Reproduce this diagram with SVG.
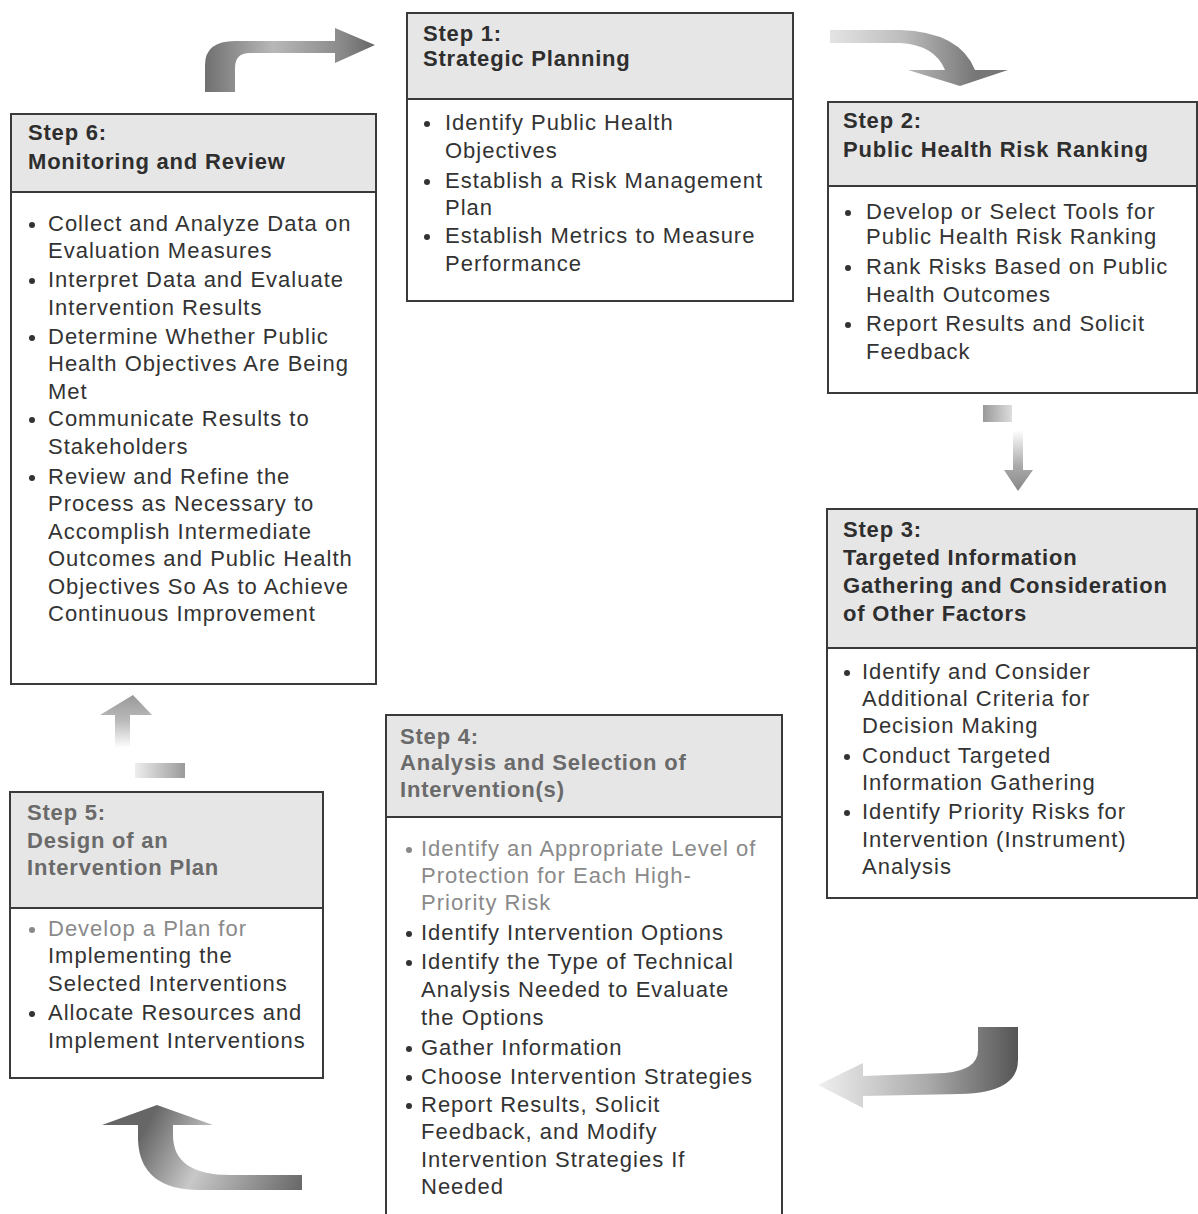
<svg xmlns="http://www.w3.org/2000/svg" width="1198" height="1214" viewBox="0 0 1198 1214">
<style>
.box{fill:#fff;stroke:#3a3a3a;stroke-width:2}
.hdr{fill:#e6e6e6;stroke:#3a3a3a;stroke-width:2}
.h{font-family:"Liberation Sans",Arial,sans-serif;font-size:22px;font-weight:bold;letter-spacing:0.8px;fill:#2e2e2e}
.t{font-family:"Liberation Sans",Arial,sans-serif;font-size:22px;letter-spacing:1px;fill:#333}
.lt{fill:#8a8a8a}
.mh{fill:#6a6a6a}
.dot{fill:#333}
.ldot{fill:#888}
</style>
<defs>
<linearGradient id="g1" gradientUnits="userSpaceOnUse" x1="205" y1="0" x2="375" y2="0">
<stop offset="0" stop-color="#707070"/><stop offset="0.4" stop-color="#b8b8b8"/><stop offset="0.8" stop-color="#8a8a8a"/><stop offset="1" stop-color="#666"/>
</linearGradient>
<linearGradient id="g2" gradientUnits="userSpaceOnUse" x1="830" y1="0" x2="975" y2="0">
<stop offset="0" stop-color="#e4e4e4"/><stop offset="0.5" stop-color="#bdbdbd"/><stop offset="1" stop-color="#777"/>
</linearGradient>
<linearGradient id="g3" gradientUnits="userSpaceOnUse" x1="0" y1="430" x2="0" y2="490">
<stop offset="0" stop-color="#fff"/><stop offset="0.6" stop-color="#aaa"/><stop offset="1" stop-color="#888"/>
</linearGradient>
<linearGradient id="g3r" gradientUnits="userSpaceOnUse" x1="983" y1="0" x2="1012" y2="0">
<stop offset="0" stop-color="#999"/><stop offset="1" stop-color="#ddd"/>
</linearGradient>
<linearGradient id="g4" gradientUnits="userSpaceOnUse" x1="0" y1="695" x2="0" y2="748">
<stop offset="0" stop-color="#999"/><stop offset="0.5" stop-color="#bbb"/><stop offset="1" stop-color="#fff"/>
</linearGradient>
<linearGradient id="g4r" gradientUnits="userSpaceOnUse" x1="135" y1="0" x2="185" y2="0">
<stop offset="0" stop-color="#eee"/><stop offset="1" stop-color="#9a9a9a"/>
</linearGradient>
<linearGradient id="g5" gradientUnits="userSpaceOnUse" x1="1018" y1="0" x2="818" y2="0">
<stop offset="0" stop-color="#555"/><stop offset="0.45" stop-color="#aaa"/><stop offset="1" stop-color="#f0f0f0"/>
</linearGradient>
<linearGradient id="g6" gradientUnits="userSpaceOnUse" x1="157" y1="1105" x2="302" y2="1182">
<stop offset="0" stop-color="#666"/><stop offset="0.4" stop-color="#c8c8c8"/><stop offset="1" stop-color="#6a6a6a"/>
</linearGradient>
</defs>

<g id="connectors">
<path d="M205,92 L205,65 Q205,41 235,41 L335,41 L335,28 L375,45 L335,63 L335,53 L250,53 Q235,53 235,68 L235,92 Z" fill="url(#g1)"/>
<path d="M830,30 L900,30 Q960,32 975,70 L1008,70 L960,86 L908,70 L945,70 Q935,45 900,43 L830,43 Z" fill="url(#g2)"/>
<rect x="983" y="405" width="29" height="17" fill="url(#g3r)"/>
<path d="M1013,430 L1023,430 L1023,470 L1033,470 L1018,491 L1004,470 L1013,470 Z" fill="url(#g3)"/>
<path d="M100,715 L133,695 L152,715 L130,715 L130,748 L115,748 L115,715 Z" fill="url(#g4)"/>
<rect x="135" y="763" width="50" height="15" fill="url(#g4r)"/>
<path d="M978,1027 L1018,1027 L1018,1060 Q1018,1093 960,1094 L863,1096 L863,1108 L818,1085 L863,1063 L863,1076 L945,1073 Q978,1070 978,1050 Z" fill="url(#g5)"/>
<path d="M302,1175 L230,1175 Q173,1175 173,1135 L173,1125 L213,1125 L157,1105 L102,1125 L138,1125 L138,1140 Q140,1190 200,1190 L302,1190 Z" fill="url(#g6)"/>
</g>

<g id="step1">
<rect class="box" x="407" y="13" width="386" height="288"/>
<rect class="hdr" x="407" y="13" width="386" height="86"/>
<text class="h" x="423" y="41">Step 1:</text>
<text class="h" x="423" y="66">Strategic Planning</text>
<circle class="dot" cx="427" cy="124" r="3"/>
<circle class="dot" cx="427" cy="182" r="3"/>
<circle class="dot" cx="427" cy="237" r="3"/>
<text class="t" x="445" y="130">Identify Public Health</text>
<text class="t" x="445" y="158">Objectives</text>
<text class="t" x="445" y="188">Establish a Risk Management</text>
<text class="t" x="445" y="215">Plan</text>
<text class="t" x="445" y="243">Establish Metrics to Measure</text>
<text class="t" x="445" y="271">Performance</text>
</g>

<g id="step2">
<rect class="box" x="828" y="102" width="369" height="291"/>
<rect class="hdr" x="828" y="102" width="369" height="84"/>
<text class="h" x="843" y="128">Step 2:</text>
<text class="h" x="843" y="157">Public Health Risk Ranking</text>
<circle class="dot" cx="848" cy="213" r="3"/>
<circle class="dot" cx="848" cy="268" r="3"/>
<circle class="dot" cx="848" cy="325" r="3"/>
<text class="t" x="866" y="219">Develop or Select Tools for</text>
<text class="t" x="866" y="244">Public Health Risk Ranking</text>
<text class="t" x="866" y="274">Rank Risks Based on Public</text>
<text class="t" x="866" y="302">Health Outcomes</text>
<text class="t" x="866" y="331">Report Results and Solicit</text>
<text class="t" x="866" y="359">Feedback</text>
</g>

<g id="step3">
<rect class="box" x="827" y="509" width="370" height="389"/>
<rect class="hdr" x="827" y="509" width="370" height="139"/>
<text class="h" x="843" y="537">Step 3:</text>
<text class="h" x="843" y="565">Targeted Information</text>
<text class="h" x="843" y="593">Gathering and Consideration</text>
<text class="h" x="843" y="621">of Other Factors</text>
<circle class="dot" cx="847" cy="673" r="3"/>
<circle class="dot" cx="847" cy="757" r="3"/>
<circle class="dot" cx="847" cy="813" r="3"/>
<text class="t" x="862" y="679">Identify and Consider</text>
<text class="t" x="862" y="706">Additional Criteria for</text>
<text class="t" x="862" y="733">Decision Making</text>
<text class="t" x="862" y="763">Conduct Targeted</text>
<text class="t" x="862" y="790">Information Gathering</text>
<text class="t" x="862" y="819">Identify Priority Risks for</text>
<text class="t" x="862" y="847">Intervention (Instrument)</text>
<text class="t" x="862" y="874">Analysis</text>
</g>

<g id="step4">
<rect class="box" x="386" y="715" width="396" height="510"/>
<rect class="hdr" x="386" y="715" width="396" height="102"/>
<text class="h mh" x="400" y="744">Step 4:</text>
<text class="h mh" x="400" y="770">Analysis and Selection of</text>
<text class="h mh" x="400" y="797">Intervention(s)</text>
<circle class="ldot" cx="409" cy="850" r="3"/>
<circle class="dot" cx="409" cy="934" r="3"/>
<circle class="dot" cx="409" cy="963" r="3"/>
<circle class="dot" cx="409" cy="1049" r="3"/>
<circle class="dot" cx="409" cy="1078" r="3"/>
<circle class="dot" cx="409" cy="1106" r="3"/>
<text class="t lt" x="421" y="856">Identify an Appropriate Level of</text>
<text class="t lt" x="421" y="883">Protection for Each High-</text>
<text class="t lt" x="421" y="910">Priority Risk</text>
<text class="t" x="421" y="940">Identify Intervention Options</text>
<text class="t" x="421" y="969">Identify the Type of Technical</text>
<text class="t" x="421" y="997">Analysis Needed to Evaluate</text>
<text class="t" x="421" y="1025">the Options</text>
<text class="t" x="421" y="1055">Gather Information</text>
<text class="t" x="421" y="1084">Choose Intervention Strategies</text>
<text class="t" x="421" y="1112">Report Results, Solicit</text>
<text class="t" x="421" y="1139">Feedback, and Modify</text>
<text class="t" x="421" y="1167">Intervention Strategies If</text>
<text class="t" x="421" y="1194">Needed</text>
</g>

<g id="step5">
<rect class="box" x="10" y="792" width="313" height="286"/>
<rect class="hdr" x="10" y="792" width="313" height="116"/>
<text class="h mh" x="27" y="820">Step 5:</text>
<text class="h mh" x="27" y="848">Design of an</text>
<text class="h mh" x="27" y="875">Intervention Plan</text>
<circle class="ldot" cx="32" cy="930" r="3"/>
<circle class="dot" cx="32" cy="1014" r="3"/>
<text class="t lt" x="48" y="936">Develop a Plan for</text>
<text class="t" x="48" y="963">Implementing the</text>
<text class="t" x="48" y="991">Selected Interventions</text>
<text class="t" x="48" y="1020">Allocate Resources and</text>
<text class="t" x="48" y="1048">Implement Interventions</text>
</g>

<g id="step6">
<rect class="box" x="11" y="114" width="365" height="570"/>
<rect class="hdr" x="11" y="114" width="365" height="78"/>
<text class="h" x="28" y="140">Step 6:</text>
<text class="h" x="28" y="169">Monitoring and Review</text>
<circle class="dot" cx="32" cy="225" r="3"/>
<circle class="dot" cx="32" cy="281" r="3"/>
<circle class="dot" cx="32" cy="338" r="3"/>
<circle class="dot" cx="32" cy="420" r="3"/>
<circle class="dot" cx="32" cy="478" r="3"/>
<text class="t" x="48" y="231">Collect and Analyze Data on</text>
<text class="t" x="48" y="258">Evaluation Measures</text>
<text class="t" x="48" y="287">Interpret Data and Evaluate</text>
<text class="t" x="48" y="315">Intervention Results</text>
<text class="t" x="48" y="344">Determine Whether Public</text>
<text class="t" x="48" y="371">Health Objectives Are Being</text>
<text class="t" x="48" y="399">Met</text>
<text class="t" x="48" y="426">Communicate Results to</text>
<text class="t" x="48" y="454">Stakeholders</text>
<text class="t" x="48" y="484">Review and Refine the</text>
<text class="t" x="48" y="511">Process as Necessary to</text>
<text class="t" x="48" y="539">Accomplish Intermediate</text>
<text class="t" x="48" y="566">Outcomes and Public Health</text>
<text class="t" x="48" y="594">Objectives So As to Achieve</text>
<text class="t" x="48" y="621">Continuous Improvement</text>
</g>
</svg>
